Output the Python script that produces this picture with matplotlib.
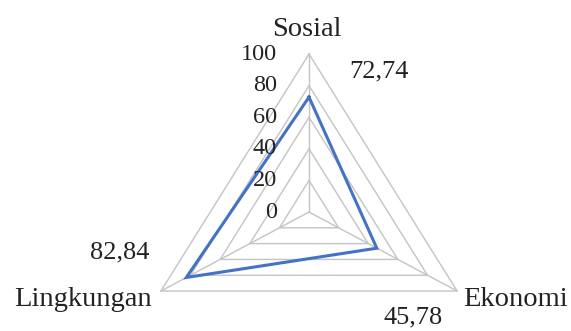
import numpy as np
import matplotlib
matplotlib.use("Agg")
import matplotlib.pyplot as plt

# three sustainability dimensions and their scores
categories = ["Sosial", "Ekonomi", "Lingkungan"]
values = [72.74, 45.78, 82.84]
value_labels = ["72,74", "45,78", "82,84"]
levels = [0, 20, 40, 60, 80, 100]

plt.rcParams["font.family"] = ["Liberation Serif", "DejaVu Serif"]
text_color = "#222222"

# spoke directions, clockwise from the top
angles = np.pi / 2 - np.arange(len(categories)) * 2 * np.pi / len(categories)
ux, uy = np.cos(angles), np.sin(angles)

fig = plt.figure(figsize=(5.71, 3.31), dpi=100)
ax = fig.add_axes([0, 0, 1, 1])
ax.set_xlim(-180.7, 153.2)
ax.set_ylim(-75.3, 134.2)
ax.axis("off")

# triangular grid rings and spokes
for lv in levels[1:]:
    xs = np.append(ux * lv, ux[0] * lv)
    ys = np.append(uy * lv, uy[0] * lv)
    ax.plot(xs, ys, color="#c4c4c4", lw=1.0, zorder=1)
for i in range(len(categories)):
    ax.plot([0, ux[i] * 100], [0, uy[i] * 100], color="#c4c4c4", lw=1.0, zorder=1)

# data polygon
vx = np.append(ux * values, ux[0] * values[0])
vy = np.append(uy * values, uy[0] * values[0])
ax.plot(vx, vy, color="#4472C4", lw=2.2, zorder=3, solid_joinstyle="miter")

# radial tick labels along the top spoke
for lv in levels:
    ax.text(-18.7, lv, str(lv), ha="right", va="center", fontsize=17.5, color=text_color)

# category names
ax.text(-1.5, 111.4, categories[0], ha="center", va="baseline", fontsize=20.5, color=text_color)
ax.text(90, -59.5, categories[1], ha="left", va="baseline", fontsize=20.5, color=text_color)
ax.text(-91.8, -59.5, categories[2], ha="right", va="baseline", fontsize=20.5, color=text_color)

# value labels
label_pos = [(40.9, 85.4), (61.1, -70.3), (-111, -29.1)]
for (lx, ly), lab in zip(label_pos, value_labels):
    ax.text(lx, ly, lab, ha="center", va="baseline", fontsize=19, color=text_color)

fig.savefig("out.png", dpi=100)
